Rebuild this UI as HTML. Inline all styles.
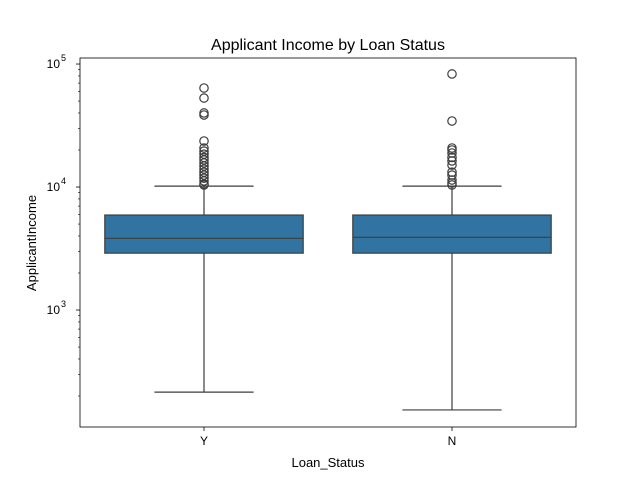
<!DOCTYPE html>
<html><head><meta charset="utf-8"><style>body{margin:0;background:#fff}svg{display:block;font-family:"Liberation Sans","DejaVu Sans",sans-serif}</style></head>
<body>
<svg id="chart" width="640" height="480" viewBox="0 0 640 480" xmlns="http://www.w3.org/2000/svg">
<rect width="640" height="480" fill="#fff"/>
<text x="328" y="50" font-size="16" text-anchor="middle">Applicant Income by Loan Status</text>
<g id="marks"></g>
<rect x="80" y="58" width="496" height="369" fill="none" stroke="#000" stroke-width="0.8"/>
<g id="axes" font-size="12"></g>
<text x="328" y="467" font-size="13" text-anchor="middle">Loan_Status</text>
<text transform="translate(36,243) rotate(-90)" font-size="13" text-anchor="middle">ApplicantIncome</text>
</svg>
<script>
const categories=["Y","N"];
const q1=[2900,2900];
const median=[3830,3900];
const q3=[5920,5920];
const whiskLo=[215,154];
const whiskHi=[10170,10170];
const outliersY=[63800,52900,40000,38500,23660,20750,19600,18500,17400,16600,15700,14800,14000,13200,12500,11800,11200,10600,10400];
const outliersN=[83000,34400,20750,20000,18900,17400,16300,15100,13200,12500,11400,10800,10400];
const outliers=[outliersY,outliersN];
const yTickExps=[3,4,5];

const NS="http://www.w3.org/2000/svg";
const plotLeft=80,plotRight=576,plotTop=58,plotBottom=427;
const logMin=2.049,logMax=5.049;
function yScale(v){return plotBottom-(Math.log10(v)-logMin)/(logMax-logMin)*(plotBottom-plotTop);}
function xScale(i){return plotLeft+(i+0.5)*(plotRight-plotLeft)/categories.length;}
const bw=(plotRight-plotLeft)/categories.length*0.8;
function mk(tag,attrs,parent){const e=document.createElementNS(NS,tag);for(const k in attrs)e.setAttribute(k,attrs[k]);parent.appendChild(e);return e;}
const marks=document.getElementById('marks'),axes=document.getElementById('axes');
const col="#3d3d3d";
categories.forEach((c,i)=>{
  const cx=xScale(i);
  const g=mk('g',{},marks);
  
  
  mk('line',{x1:cx,x2:cx,y1:yScale(q1[i]),y2:yScale(whiskLo[i]),stroke:col,'stroke-width':1.2},g);
  mk('line',{x1:cx,x2:cx,y1:yScale(q3[i]),y2:yScale(whiskHi[i]),stroke:col,'stroke-width':1.2},g);
  mk('line',{x1:cx-bw/4,x2:cx+bw/4,y1:yScale(whiskLo[i]),y2:yScale(whiskLo[i]),stroke:col,'stroke-width':1.2},g);
  mk('line',{x1:cx-bw/4,x2:cx+bw/4,y1:yScale(whiskHi[i]),y2:yScale(whiskHi[i]),stroke:col,'stroke-width':1.2},g);
  mk('rect',{x:cx-bw/2,y:yScale(q3[i]),width:bw,height:yScale(q1[i])-yScale(q3[i]),fill:"#3274a1",stroke:col,'stroke-width':1.2},g);
  mk('line',{x1:cx-bw/2,x2:cx+bw/2,y1:yScale(median[i]),y2:yScale(median[i]),stroke:col,'stroke-width':1.2},g);
  outliers[i].forEach(v=>{
    const o=mk('circle',{cx:cx,cy:yScale(v),r:4.2,fill:"none",stroke:col,'stroke-width':1.2},g);
    
    
  });
  mk('line',{x1:cx,x2:cx,y1:plotBottom,y2:plotBottom+4,stroke:"#000",'stroke-width':0.8},axes);
  const t=mk('text',{x:cx,y:plotBottom+18,'text-anchor':'middle'},axes);
  t.textContent=c;
  
  
});
yTickExps.forEach(e=>{
  const yy=yScale(Math.pow(10,e));
  mk('line',{x1:plotLeft-4,x2:plotLeft,y1:yy,y2:yy,stroke:"#000",'stroke-width':0.8},axes);
  const t=mk('text',{x:plotLeft-20,y:yy+4,'text-anchor':'end'},axes);
  t.textContent='10';
  
  
  const s=mk('text',{x:plotLeft-19,y:yy-3,'font-size':9},axes);
  s.textContent=String(e);
});
for(let e=2;e<=5;e++)for(let m=2;m<=9;m++){
  const v=m*Math.pow(10,e);const yy=yScale(v);
  if(yy<plotTop||yy>plotBottom)continue;
  mk('line',{x1:plotLeft-2,x2:plotLeft,y1:yy,y2:yy,stroke:"#000",'stroke-width':0.6},axes);
}
</script>
</body></html>
